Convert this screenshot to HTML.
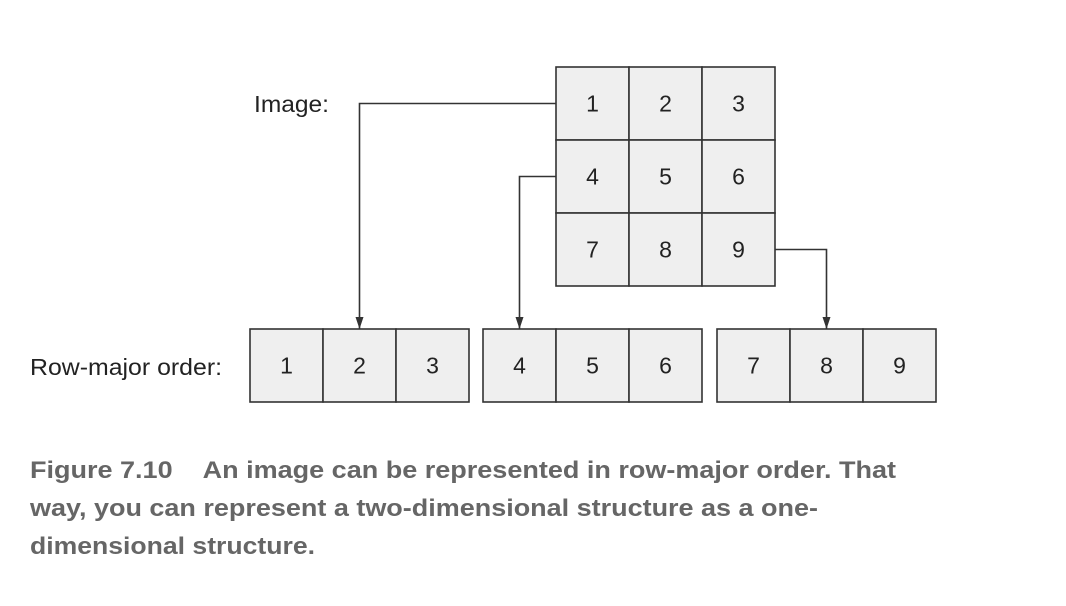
<!DOCTYPE html>
<html><head><meta charset="utf-8"><style>
html,body{margin:0;padding:0;background:#fff;}
svg{display:block;}
text{font-family:"Liberation Sans",sans-serif;}
</style></head><body>
<svg id="fig" width="1066" height="606" viewBox="0 0 1066 606">
<defs><marker id="ah" viewBox="0 0 12 8" refX="12" refY="4" markerWidth="12" markerHeight="8" markerUnits="userSpaceOnUse" orient="auto"><path d="M0,0 L12,4 L0,8 z" fill="#333"/></marker></defs>
<text x="254" y="112" font-size="23" fill="#222" textLength="75" lengthAdjust="spacingAndGlyphs">Image:</text>
<text x="30" y="375" font-size="23" fill="#222" textLength="192" lengthAdjust="spacingAndGlyphs">Row-major order:</text>
<g id="cells"></g>
<g id="arrows"></g>
<text x="30" y="478" font-size="24" font-weight="bold" fill="#666" textLength="866" lengthAdjust="spacingAndGlyphs">Figure 7.10&#160;&#160;&#160;&#160;An image can be represented in row-major order. That</text>
<text x="30" y="516" font-size="24" font-weight="bold" fill="#666" textLength="788" lengthAdjust="spacingAndGlyphs">way, you can represent a two-dimensional structure as a one-</text>
<text x="30" y="554" font-size="24" font-weight="bold" fill="#666" textLength="285" lengthAdjust="spacingAndGlyphs">dimensional structure.</text>
</svg>
<script>
const gridRows = [[1,2,3],[4,5,6],[7,8,9]];
const rowGroups = [[1,2,3],[4,5,6],[7,8,9]];
const NS="http://www.w3.org/2000/svg";
const gx=556, gy=67, cs=73;
const bx=[250,483,717], by=329, bh=73;
const cells=document.getElementById('cells');
function cell(x,y,w,h,v,name){
  const r=document.createElementNS(NS,'rect');
  r.setAttribute('x',x);r.setAttribute('y',y);r.setAttribute('width',w);r.setAttribute('height',h);
  r.setAttribute('fill','#efefef');r.setAttribute('stroke','#333');r.setAttribute('stroke-width','1.6');
  
  
  cells.appendChild(r);
  const t=document.createElementNS(NS,'text');
  t.setAttribute('x',x+w/2);t.setAttribute('y',y+h/2+8);t.setAttribute('text-anchor','middle');
  t.setAttribute('font-size','23');t.setAttribute('fill','#222');t.textContent=v;
  
  
  cells.appendChild(t);
}
gridRows.forEach((row,i)=>row.forEach((v,j)=>cell(gx+j*cs,gy+i*cs,cs,cs,v,'grid-cell-'+v)));
rowGroups.forEach((g,k)=>g.forEach((v,j)=>cell(bx[k]+j*cs,by,cs,bh,v,'row-cell-'+v)));
const arrows=document.getElementById('arrows');
function arrow(d,name){
  const p=document.createElementNS(NS,'path');
  p.setAttribute('d',d);p.setAttribute('fill','none');p.setAttribute('stroke','#333');p.setAttribute('stroke-width','1.6');
  p.setAttribute('marker-end','url(#ah)');
  
  
  arrows.appendChild(p);
}
arrow(`M${gx},${gy+cs/2} H${bx[0]+cs*1.5} V${by}`,'arrow-row-1');
arrow(`M${gx},${gy+cs*1.5} H${bx[1]+cs/2} V${by}`,'arrow-row-2');
arrow(`M${gx+cs*3},${gy+cs*2.5} H${bx[2]+cs*1.5} V${by}`,'arrow-row-3');
</script>
</body></html>
